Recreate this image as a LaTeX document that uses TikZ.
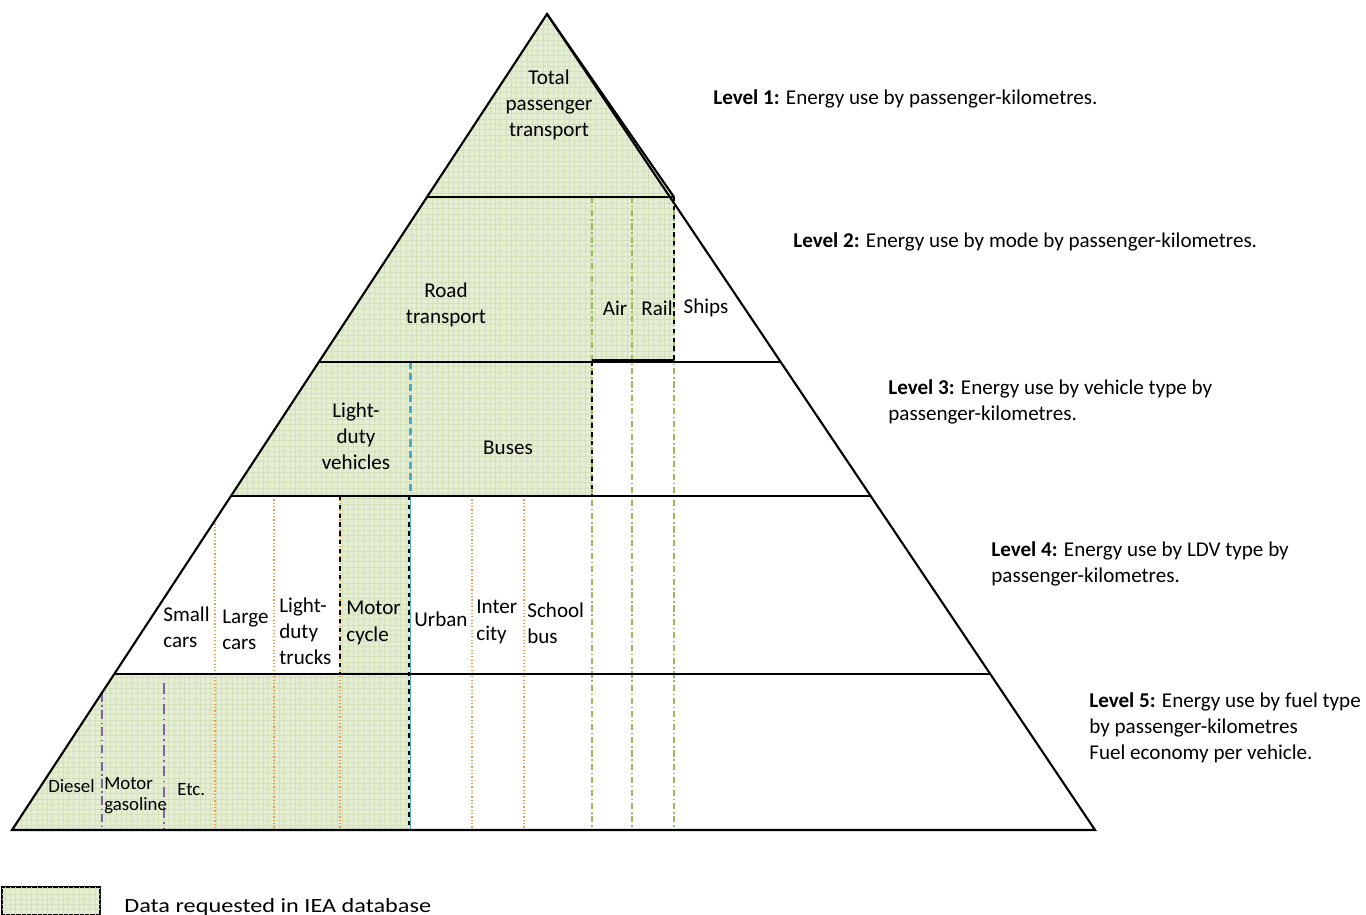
\documentclass[tikz,border=0pt]{standalone}
\usepackage{fontspec}
\usepackage{graphicx}
\setmainfont{Carlito}
\usetikzlibrary{patterns}
\definecolor{ieaFill}{RGB}{229,237,213}
\definecolor{ieaGrid}{RGB}{210,225,186}
\definecolor{offGreen}{RGB}{155,187,89}
\definecolor{offOrange}{RGB}{247,150,70}
\definecolor{offCyan}{RGB}{75,172,198}
\definecolor{offPurple}{RGB}{128,100,162}
\tikzset{
  pyr/.style={line width=1.2pt},
  ieaArea/.style={fill=ieaFill,postaction={pattern=grid,pattern color=ieaGrid}},
  sepGreen/.style={offGreen,line width=1.3pt,dash pattern=on 3.5pt off 1.6pt on 0.8pt off 1.6pt},
  sepOrange/.style={offOrange,line width=1pt,dash pattern=on 0.7pt off 1.2pt},
  sepCyan/.style={offCyan,line width=1.5pt,dash pattern=on 4pt off 2.3pt},
  sepPurple/.style={offPurple,line width=1.2pt,dash pattern=on 6pt off 2.5pt on 0.8pt off 2.5pt},
  sepBlack/.style={line width=1.1pt,dash pattern=on 2.5pt off 2.5pt},
  lbl/.style={align=center,font=\fontsize{12}{14.8}\selectfont,inner sep=0pt,yshift=-1.1pt},
  lblL/.style={lbl,anchor=west,align=left},
  lblS/.style={lblL,font=\fontsize{10.7}{12}\selectfont},
}

\begin{document}
\begin{tikzpicture}[x=0.02cm,y=-0.02cm]
  \useasboundingbox (0,0) rectangle (1366,915);
  % shaded areas: data requested
  \path[ieaArea] (547,14) -- (674,197) -- (674,361) -- (592,361) -- (592,496) -- (231,496) -- cycle;
  \path[ieaArea] (340,496) rectangle (410,674);
  \path[ieaArea] (114,674) -- (410,674) -- (410,830) -- (12,830) -- cycle;
  % separators
  \foreach \xs in {592,632,674} \draw[sepGreen] (\xs,197) -- (\xs,830);
  \draw[sepOrange] (215,520) -- (215,830);
  \foreach \xs in {274,340,472,524} \draw[sepOrange] (\xs,496) -- (\xs,830);
  \draw[sepCyan] (410.5,362) -- (410.5,496);
  \draw[offCyan,line width=1.1pt] (410.5,496) -- (410.5,830);
  \draw[sepBlack] (409,496) -- (409,830);
  \draw[sepBlack] (340,496) -- (340,674);
  \draw[sepBlack] (592,362) -- (592,496);
  \draw[sepBlack] (674,197) -- (674,360);
  \draw[sepPurple,dash pattern=on 5pt off 2pt on 0.8pt off 2pt] (102,693) -- (102,830);
  \draw[sepPurple] (164,683) -- (164,830);
  % pyramid and levels
  \draw[pyr] (547,14) -- (12,830) -- (1095,830) -- cycle;
  \draw[pyr] (547,14) -- (674,197);
  \draw[pyr] (427,197) -- (674,197);
  \draw[pyr] (592,360) -- (674,360);
  \draw[pyr] (319,362) -- (781,362);
  \draw[pyr] (231,496) -- (871,496);
  \draw[pyr] (114,674) -- (990,674);
  % labels inside
  \node[lbl] (total) at (549,103) {Total\\passenger\\transport};
  \node[lbl] (road) at (446,303) {Road\\transport};
  \node[lbl] (air) at (615,306) {Air};
  \node[lbl] (rail) at (657,306) {Rail};
  \node[lbl] (ships) at (706,306) {Ships};
  \node[lbl] (ldv) at (356,434) {Light-\\duty\\vehicles};
  \node[lbl] (buses) at (508,446) {Buses};
  \node[lblL] (small) at (163,625) {Small\\cars};
  \node[lblL] (large) at (222,628) {Large\\cars};
  \node[lblL] (ldt) at (279,629) {Light-\\duty\\trucks};
  \node[lblL] (moto) at (346,621) {Motor\\cycle};
  \node[lblL] (urban) at (414,617) {Urban};
  \node[lblL] (inter) at (476,620) {Inter\\city};
  \node[lblL] (school) at (527,621) {School\\bus};
  \node[lblS] (diesel) at (48,784) {Diesel};
  \node[lblS] (gasol) at (104,794) {Motor\\gasoline};
  \node[lblS] (etc) at (177,788) {Etc.};
  % level descriptions
  \node[lblL] (lv1) at (713,97) {\textbf{Level 1:} Energy use by passenger-kilometres.};
  \node[lblL] (lv2) at (793,240) {\textbf{Level 2:} Energy use by mode by passenger-kilometres.};
  \node[lblL] (lv3) at (888,400) {\textbf{Level 3:} Energy use by vehicle type by\\passenger-kilometres.};
  \node[lblL] (lv4) at (991,562) {\textbf{Level 4:} Energy use by LDV type by\\passenger-kilometres.};
  \node[lblL] (lv5) at (1089,726) {\textbf{Level 5:} Energy use by fuel type\\by passenger-kilometres\\Fuel economy per vehicle.};
  % legend
  \draw[ieaArea,line width=1pt] (2,887) rectangle (100,915);
  \node[inner sep=0pt,anchor=base west] (legend) at (124,912)
    {\scalebox{1.2}[1]{\fontsize{11.5}{14}\selectfont Data requested in IEA database}};
\end{tikzpicture}
\end{document}
